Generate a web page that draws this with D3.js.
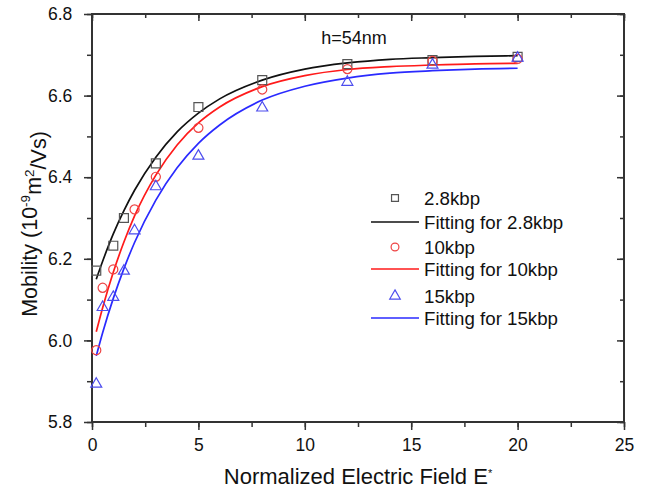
<!DOCTYPE html>
<html><head><meta charset="utf-8">
<script src="https://cdn.jsdelivr.net/npm/d3@7"></script>
<style>body{margin:0;background:#fff}svg{display:block}text{font-family:"Liberation Sans",Arial,sans-serif;fill:#111}</style>
</head><body><svg id="c" width="646" height="492"></svg>
<script>
// measured data
const xTicks = [0, 5, 10, 15, 20, 25];
const yTicks = [5.8, 6.0, 6.2, 6.4, 6.6, 6.8];
const x28 = [0.2, 1, 1.5, 3, 5, 8, 12, 16, 20];
const y28 = [6.171, 6.232, 6.300, 6.434, 6.572, 6.638, 6.677, 6.687, 6.695];
const x10 = [0.2, 0.5, 1, 2, 3, 5, 8, 12, 16, 20];
const y10 = [5.976, 6.129, 6.174, 6.321, 6.401, 6.521, 6.615, 6.665, 6.685, 6.690];
const x15 = [0.2, 0.5, 1, 1.5, 2, 3, 5, 8, 12, 16, 20];
const y15 = [5.893, 6.081, 6.106, 6.170, 6.269, 6.377, 6.452, 6.570, 6.633, 6.675, 6.692];
// fitted curves
const fitX = [0.2, 0.5, 1, 1.5, 2, 3, 4, 5, 6, 8, 10, 12, 14, 16, 18, 20];
const fit28 = [6.150, 6.194, 6.261, 6.318, 6.368, 6.449, 6.511, 6.557, 6.592, 6.638, 6.665, 6.680, 6.689, 6.693, 6.696, 6.698];
const fit10 = [6.021, 6.080, 6.167, 6.241, 6.305, 6.405, 6.479, 6.533, 6.572, 6.622, 6.649, 6.664, 6.671, 6.675, 6.678, 6.679];
const fit15 = [5.962, 6.019, 6.103, 6.176, 6.240, 6.344, 6.423, 6.483, 6.528, 6.589, 6.623, 6.643, 6.655, 6.661, 6.665, 6.667];
const legendLabels = ["2.8kbp", "Fitting for 2.8kbp", "10kbp", "Fitting for 10kbp", "15kbp", "Fitting for 15kbp"];

const L = 92, R = 624, T = 14, B = 422;
const svg = d3.select("#c");
const x = d3.scaleLinear().domain([0, 25]).range([L, R]);
const y = d3.scaleLinear().domain([5.8, 6.8]).range([B, T]);
const minorX = d3.range(0, 25.01, 2.5);
const minorY = d3.range(5.8, 6.801, 0.1);
const ax = "#333";

// axes
const gBottom = svg.append("g").attr("transform", `translate(0,${B})`)
  .call(d3.axisBottom(x).tickValues(minorX).tickSize(5).tickFormat(""));
gBottom.call(g => g.append("g").call(d3.axisBottom(x).tickValues(xTicks).tickSize(8).tickFormat(d3.format("d"))));
const gLeft = svg.append("g").attr("transform", `translate(${L},0)`)
  .call(d3.axisLeft(y).tickValues(minorY).tickSize(5).tickFormat(""));
gLeft.call(g => g.append("g").call(d3.axisLeft(y).tickValues(yTicks).tickSize(8).tickFormat(d3.format(".1f"))));
const gTop = svg.append("g").attr("transform", `translate(0,${T})`)
  .call(d3.axisBottom(x).tickValues(minorX).tickSize(4).tickFormat(""));
gTop.call(g => g.append("g").call(d3.axisBottom(x).tickValues(xTicks).tickSize(7).tickFormat("")));
const gRight = svg.append("g").attr("transform", `translate(${R},0)`)
  .call(d3.axisLeft(y).tickValues(minorY).tickSize(4).tickFormat(""));
gRight.call(g => g.append("g").call(d3.axisLeft(y).tickValues(yTicks).tickSize(7).tickFormat("")));
svg.selectAll(".domain").remove();
svg.selectAll(".tick line").attr("stroke", ax).attr("stroke-width", 1.5);
svg.selectAll(".tick text").style("font-size", "17.5px").attr("fill", "#111");
gBottom.selectAll(".tick text").attr("dy", "1.05em");
gLeft.selectAll(".tick text").attr("dx", "-0.5em");
svg.append("rect").attr("x", L).attr("y", T).attr("width", R - L).attr("height", B - T)
  .attr("fill", "none").attr("stroke", ax).attr("stroke-width", 2);

// lines
const line = d3.line().x(d => x(d[0])).y(d => y(d[1])).curve(d3.curveMonotoneX);
const fits = [[fit28, "#111"], [fit10, "#ff1a1a"], [fit15, "#2a2aff"]];
fits.forEach(([vals, col]) => {
  svg.append("path").datum(fitX.map((v, i) => [v, vals[i]])).attr("d", line)
    .attr("fill", "none").attr("stroke", col).attr("stroke-width", 1.7);
});

// points
const sq = d3.symbol().type(d3.symbolSquare).size(80);
const ci = d3.symbol().type(d3.symbolCircle).size(65);
const tr = d3.symbol().type(d3.symbolTriangle).size(52);
const sets = [[x28, y28, sq, "#555"], [x10, y10, ci, "#ee4444"], [x15, y15, tr, "#4d4dee"]];
sets.forEach(([xs, ys, sym, col]) => {
  svg.append("g").selectAll("path").data(xs.map((v, i) => [v, ys[i]])).join("path")
    .attr("d", sym).attr("transform", d => `translate(${x(d[0])},${y(d[1])})`)
    .attr("fill", "none").attr("stroke", col).attr("stroke-width", 1.2);
});

// legend
const legRows = [198, 222, 247, 269, 296, 318];
const legTypes = [d3.symbolSquare, null, d3.symbolCircle, null, d3.symbolTriangle, null];
const legCol = ["#555", "#111", "#ee4444", "#ff1a1a", "#4d4dee", "#2a2aff"];
const lg = svg.append("g");
legendLabels.forEach((lab, i) => {
  const yy = legRows[i];
  if (legTypes[i]) {
    lg.append("path").attr("d", d3.symbol().type(legTypes[i]).size(48)())
      .attr("transform", `translate(395,${yy})`).attr("fill", "none").attr("stroke", legCol[i]).attr("stroke-width", 1.2);
  } else {
    lg.append("line").attr("x1", 371).attr("x2", 419).attr("y1", yy).attr("y2", yy)
      .attr("stroke", legCol[i]).attr("stroke-width", 1.7);
  }
  lg.append("text").attr("x", 424).attr("y", yy).attr("dy", "0.36em").style("font-size", "18.7px").text(lab);
});

svg.append("text").attr("x", 354).attr("y", 44).attr("text-anchor", "middle").style("font-size", "18px").text("h=54nm");

// axis titles
const xt = svg.append("text").attr("x", 358).attr("y", 484).attr("text-anchor", "middle").style("font-size", "22px");
xt.append("tspan").text("Normalized Electric Field E");
xt.append("tspan").attr("dy", "-0.6em").style("font-size", "11px").text("*");
const yt = svg.append("text").attr("transform", "translate(37,224) rotate(-90)").attr("text-anchor", "middle").style("font-size", "21.5px");
yt.append("tspan").text("Mobility (10");
yt.append("tspan").attr("dy", "-0.55em").style("font-size", "13.5px").text("-9");
yt.append("tspan").attr("dy", "0.55em").text("m");
yt.append("tspan").attr("dy", "-0.55em").style("font-size", "13.5px").text("2");
yt.append("tspan").attr("dy", "0.55em").text("/Vs)");
</script></body></html>
